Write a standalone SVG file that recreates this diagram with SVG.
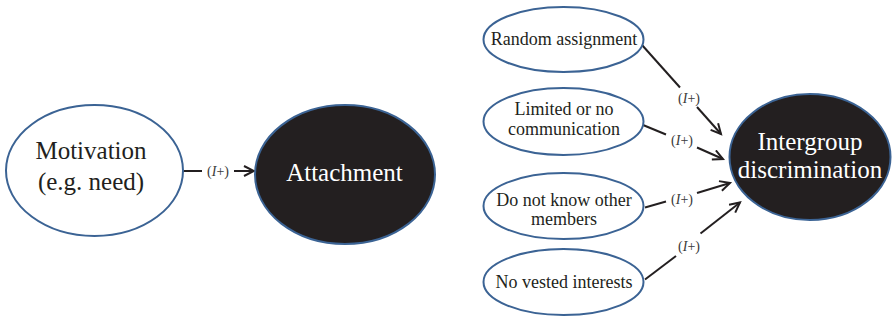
<svg xmlns="http://www.w3.org/2000/svg" width="892" height="321" viewBox="0 0 892 321">
  <style>
    .node-light { fill: #ffffff; stroke: #3b6394; stroke-width: 2; }
    .node-dark { fill: #231f20; stroke: #3b6394; stroke-width: 2; }
    .t { font-family: "Liberation Serif", "Times New Roman", serif; text-anchor: middle; fill: #231f20; }
    .t-big { font-size: 25px; }
    .t-big-w { font-size: 25px; fill: #ffffff; }
    .t-small { font-size: 18px; }
    .edge { stroke: #231f20; stroke-width: 2; fill: none; }
    .lbl { font-family: "Liberation Serif", "Times New Roman", serif; font-size: 14px; fill: #3a3a3a; text-anchor: middle; }
  </style>
  <defs>
    <marker id="arrow" markerUnits="userSpaceOnUse" markerWidth="14" markerHeight="14" refX="11" refY="6" orient="auto">
      <path d="M1,1 L11,6 L1,11" fill="none" stroke="#231f20" stroke-width="2"/>
    </marker>
  </defs>

  <rect width="892" height="321" fill="#ffffff"/>

  <!-- connectors -->
  <g id="connectors">
    <g id="e-motivation-attachment">
      <line class="edge" x1="183" y1="171" x2="202" y2="171"/>
      <line class="edge" x1="234" y1="171" x2="254" y2="171" marker-end="url(#arrow)"/>
      <text class="lbl" x="218" y="175.5">(<tspan font-style="italic">I</tspan>+)</text>
    </g>
    <g id="e-random-intergroup">
      <line class="edge" x1="642" y1="45" x2="680" y2="87.5"/>
      <line class="edge" x1="697" y1="107" x2="721" y2="134" marker-end="url(#arrow)"/>
      <text class="lbl" x="689" y="102.5">(<tspan font-style="italic">I</tspan>+)</text>
    </g>
    <g id="e-limited-intergroup">
      <line class="edge" x1="643" y1="125" x2="666" y2="134.5"/>
      <line class="edge" x1="697" y1="147.5" x2="723" y2="159" marker-end="url(#arrow)"/>
      <text class="lbl" x="682" y="145">(<tspan font-style="italic">I</tspan>+)</text>
    </g>
    <g id="e-know-intergroup">
      <line class="edge" x1="645" y1="207.5" x2="666" y2="201.5"/>
      <line class="edge" x1="697" y1="193" x2="730" y2="183" marker-end="url(#arrow)"/>
      <text class="lbl" x="682" y="203.5">(<tspan font-style="italic">I</tspan>+)</text>
    </g>
    <g id="e-vested-intergroup">
      <line class="edge" x1="645" y1="279.5" x2="676" y2="256"/>
      <line class="edge" x1="700.5" y1="233.5" x2="740" y2="202.5" marker-end="url(#arrow)"/>
      <text class="lbl" x="689" y="250.5">(<tspan font-style="italic">I</tspan>+)</text>
    </g>
  </g>

  <!-- nodes -->
  <g id="motivation">
    <ellipse class="node-light" cx="94.5" cy="170.5" rx="88.5" ry="65.5"/>
    <text class="t t-big"><tspan x="91" y="159">Motivation</tspan><tspan x="91" y="190">(e.g. need)</tspan></text>
  </g>

  <g id="attachment">
    <ellipse class="node-dark" cx="345" cy="174.5" rx="90" ry="69.5"/>
    <text class="t t-big-w" x="344.5" y="181">Attachment</text>
  </g>

  <g id="random-assignment">
    <ellipse class="node-light" cx="563.5" cy="39.5" rx="80" ry="32.5"/>
    <text class="t t-small" x="564" y="44.5">Random assignment</text>
  </g>

  <g id="limited-communication">
    <ellipse class="node-light" cx="563.5" cy="121.5" rx="80" ry="33.5"/>
    <text class="t t-small"><tspan x="564" y="114.5">Limited or no</tspan><tspan x="564" y="135">communication</tspan></text>
  </g>

  <g id="unknown-members">
    <ellipse class="node-light" cx="563.5" cy="206" rx="80" ry="33"/>
    <text class="t t-small"><tspan x="564" y="206">Do not know other</tspan><tspan x="564" y="225">members</tspan></text>
  </g>

  <g id="no-vested-interests">
    <ellipse class="node-light" cx="563.5" cy="282" rx="80" ry="33"/>
    <text class="t t-small" x="564" y="288">No vested interests</text>
  </g>

  <g id="intergroup-discrimination">
    <ellipse class="node-dark" cx="810" cy="157" rx="80.5" ry="63"/>
    <text class="t t-big-w"><tspan x="810" y="150">Intergroup</tspan><tspan x="810" y="177.5">discrimination</tspan></text>
  </g>
</svg>
